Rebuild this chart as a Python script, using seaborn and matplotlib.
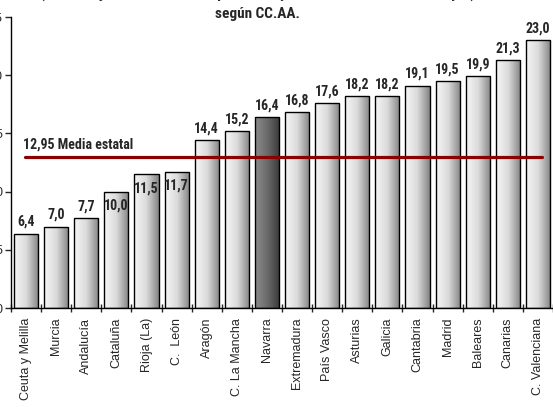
import numpy as np
import matplotlib
matplotlib.use("Agg")
import matplotlib.pyplot as plt
from matplotlib.colors import LinearSegmentedColormap
import seaborn as sns

# Datos
regiones = ["Ceuta y Melilla", "Murcia", "Andalucía", "Cataluña", "Rioja (La)",
            "C.  León", "Aragón", "C. La Mancha", "Navarra", "Extremadura",
            "País Vasco", "Asturias", "Galicia", "Cantabria", "Madrid",
            "Baleares", "Canarias", "C. Valenciana"]
valores = [6.4, 7.0, 7.7, 10.0, 11.5, 11.7, 14.4, 15.2, 16.4, 16.8,
           17.6, 18.2, 18.2, 19.1, 19.5, 19.9, 21.3, 23.0]
destacada = "Navarra"
media_estatal = 12.95
titulo = ["(Porcentaje sobre el total de población y ordenación de menor a mayor)",
          "según CC.AA."]

sns.set_style("white")
plt.rcParams["font.family"] = ["Liberation Sans", "DejaVu Sans"]
narrow = ["Roboto Condensed", "DejaVu Sans"]

fig = plt.figure(figsize=(5.53, 4.07), dpi=100)
ax = fig.add_axes([0.0199, 0.2432, 0.9801, 0.715])

sns.barplot(x=regiones, y=valores, color="white", edgecolor="black",
            linewidth=1.0, width=0.8, ax=ax, zorder=3)

# Degradado horizontal en cada barra
cm_claro = LinearSegmentedColormap.from_list("claro", ["#f6f6f6", "#dadada", "#858585"])
cm_oscuro = LinearSegmentedColormap.from_list("oscuro", ["#8c8c8c", "#6a6a6a", "#3a3a3a"])
grad = np.linspace(0, 1, 64).reshape(1, -1)
for patch, reg in zip(ax.patches, regiones):
    patch.set_facecolor("none")
    x0, y0 = patch.get_x(), patch.get_y()
    w, h = patch.get_width(), patch.get_height()
    cmap = cm_oscuro if reg == destacada else cm_claro
    im = ax.imshow(grad, extent=[x0, x0 + w, y0, y0 + h], cmap=cmap,
                   aspect="auto", zorder=2, interpolation="bilinear")
    im.set_clip_path(patch)

ax.set_xlim(-0.5, len(regiones) - 0.5)
ax.set_ylim(0, 25)

# Etiquetas de valor
for patch, v in zip(ax.patches, valores):
    xc = patch.get_x() + patch.get_width() / 2
    txt = f"{v:.1f}".replace(".", ",")
    if 9.5 < v < media_estatal:
        ax.annotate(txt, (xc, v), xytext=(0, -5), textcoords="offset points",
                    ha="center", va="top", fontsize=10, fontweight="bold",
                    family=narrow, zorder=5)
    else:
        ax.annotate(txt, (xc, v), xytext=(0, 3.5), textcoords="offset points",
                    ha="center", va="bottom", fontsize=10, fontweight="bold",
                    family=narrow, annotation_clip=False, zorder=5)

# Media estatal
ax.axhline(media_estatal, xmin=0.026, xmax=0.98, color="#8b0000", lw=2.3, zorder=4)
ax.annotate(f"{media_estatal:.2f}".replace(".", ",") + " Media estatal",
            (0.022, media_estatal), xycoords=("axes fraction", "data"),
            xytext=(0, 4), textcoords="offset points", ha="left", va="bottom",
            fontsize=10, fontweight="bold", family=narrow, zorder=5)

# Ejes
sns.despine(ax=ax, top=True, right=True)
for lado in ["left", "bottom"]:
    ax.spines[lado].set_color("black")
    ax.spines[lado].set_linewidth(1)
ax.set_yticks(range(0, 26, 5))
ax.tick_params(axis="y", direction="out", length=4, width=1, pad=2,
               labelsize=9, left=True)
ax.set_xticks(np.arange(len(regiones)))
ax.set_xticklabels(regiones, rotation=90, fontsize=9, va="top", ha="center")
ax.tick_params(axis="x", which="major", length=0, pad=7)
ax.set_xticks(np.arange(len(regiones) + 1) - 0.5, minor=True)
ax.tick_params(axis="x", which="minor", direction="inout", length=6, width=1,
               bottom=True)
ax.set_xlabel("")
ax.set_ylabel("")
ax.grid(False)

# Título (la primera línea queda casi fuera de la imagen, como en el original)
fig.text(0.465, 1 + 1 / 407, titulo[0], ha="center", va="baseline",
         fontsize=11, fontweight="bold", family=narrow)
fig.text(0.465, 1 - 14 / 407, titulo[1], ha="center", va="center",
         fontsize=11, fontweight="bold", family=narrow)

fig.savefig("out.png", dpi=100)
